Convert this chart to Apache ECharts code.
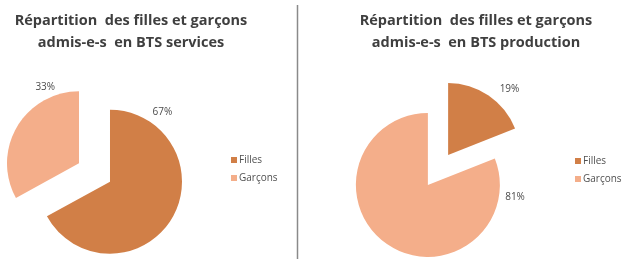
<!DOCTYPE html>
<html>
<head>
<meta charset="utf-8">
<script src="https://cdn.jsdelivr.net/npm/echarts@6/dist/echarts.min.js"></script>
<style>
html, body { margin: 0; padding: 0; background: #fff; }
#chart { width: 622px; height: 259px; }
</style>
</head>
<body>
<div id="chart"></div>
<script>
var categories = ['Filles', 'Garçons'];
var services_values = [67, 33];
var production_values = [19, 81];
var titles = [
    'Répartition  des filles et garçons\nadmis-e-s  en BTS services',
    'Répartition  des filles et garçons\nadmis-e-s  en BTS production'
];

var colors = ['#d17f47', '#f4ae8a'];

// where excel put the % labels (angle clockwise from top, distance from slice tip)
var label_spots = [
    [[37, 87], [336, 83]],
    [[43, 90], [98, 88]]
];

var chart = echarts.init(document.getElementById('chart'));

// one series per slice, so each slice can be pulled out of the pie
function makePies(values, center, spots) {
    var total = 0;
    for (var i = 0; i < values.length; i++) total += values[i];
    var offset = 18;
    var list = [];
    var before = 0;
    for (var s = 0; s < values.length; s++) {
        var mid = (before + values[s] / 2) / total * 2 * Math.PI;
        before += values[s];
        var tip = [center[0] + Math.sin(mid) * offset, center[1] - Math.cos(mid) * offset];
        var data = [];
        for (var j = 0; j < values.length; j++) {
            var item = { name: categories[j], value: values[j] };
            if (j != s) {
                item.itemStyle = { color: 'rgba(0,0,0,0)' };
                item.label = { show: false };
            }
            data.push(item);
        }
        var a = spots[s][0] * Math.PI / 180;
        var lx = tip[0] + Math.sin(a) * spots[s][1];
        var ly = tip[1] - Math.cos(a) * spots[s][1];
        list.push({
            type: 'pie',
            center: tip,
            radius: 72,
            startAngle: 90,
            clockwise: true,
            animation: false,
            silent: true,
            avoidLabelOverlap: false,
            data: data,
            label: {
                show: true,
                position: 'outside',
                formatter: '{d}%',
                fontFamily: 'Open Sans',
                fontSize: 10,
                color: '#4a4a4a'
            },
            labelLine: { show: false },
            labelLayout: (function (x, y) {
                return function () {
                    return { x: x, y: y, align: 'center', verticalAlign: 'middle' };
                };
            })(lx, ly)
        });
    }
    return list;
}

function makeLegend(left, top) {
    var data = [];
    for (var i = 0; i < categories.length; i++) {
        data.push({ name: categories[i], itemStyle: { color: colors[i] } });
    }
    return {
        orient: 'vertical',
        left: left,
        top: top,
        padding: 0,
        data: data,
        icon: 'rect',
        itemWidth: 6,
        itemHeight: 6,
        itemGap: 8,
        selectedMode: false,
        textStyle: {
            fontFamily: 'Open Sans',
            fontSize: 10,
            color: '#505050',
            padding: [0, 0, 0, -3]
        }
    };
}

function makeTitle(text, x) {
    return {
        text: text,
        left: x,
        top: 5,
        textAlign: 'center',
        textStyle: {
            fontFamily: 'Open Sans',
            fontWeight: 'bold',
            fontSize: 14.5,
            lineHeight: 22,
            color: '#3f3f3f'
        }
    };
}

var option = {
    color: colors,
    title: [makeTitle(titles[0], 126), makeTitle(titles[1], 471)],
    legend: [makeLegend(231, 155), makeLegend(575, 156)],
    graphic: [{
        type: 'line',
        shape: { x1: 297.5, y1: 5, x2: 297.5, y2: 259 },
        style: { stroke: '#8a8a8a', lineWidth: 1.5 }
    }],
    series: makePies(services_values, [94.5, 172.5], label_spots[0])
        .concat(makePies(production_values, [438, 170], label_spots[1]))
};

chart.setOption(option);
</script>
</body>
</html>
